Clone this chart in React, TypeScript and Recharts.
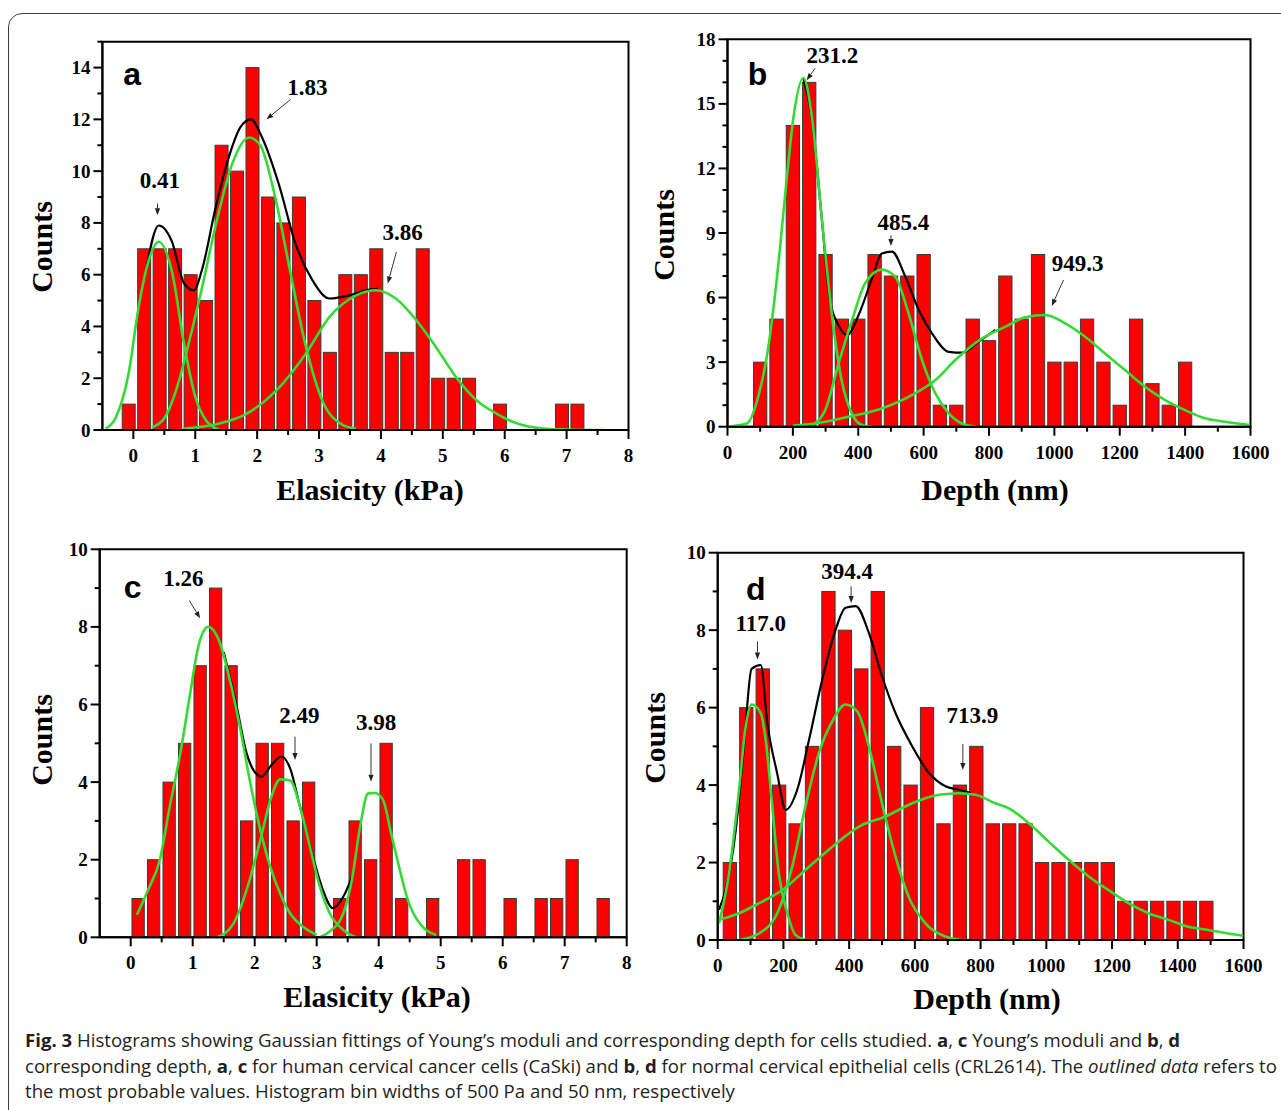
import React from "react";
import {
  ComposedChart,
  Bar,
  Line,
  XAxis,
  YAxis,
  ReferenceArea,
  ReferenceDot,
  ReferenceLine,
} from "recharts";

const W = 1281;
const H = 1110;

// ---------- a: Young's moduli, CaSki ----------
const aBinStart = -0.075;
const aBinWidth = 0.25;
const aCounts = [1, 7, 7, 7, 6, 5, 11, 10, 14, 9, 8, 9, 5, 3, 6, 6, 7, 3, 3, 7, 2, 2, 2, 0, 1, 0, 0, 0, 1, 1];
const aFit1 = [[-0.45, 0.05], [-0.29, 0.45], [-0.075, 2.2], [0.086, 4.76], [0.25, 6.56], [0.41, 7.27], [0.63, 6.05], [0.82, 3.3], [1.0, 1.29], [1.17, 0.39], [1.38, 0.02]];
const aFit2 = [[0.3, 0.1], [0.5, 0.45], [0.7, 1.6], [0.9, 3.4], [1.1, 5.4], [1.33, 7.9], [1.6, 10.3], [1.87, 11.3], [2.05, 11.0], [2.3, 8.9], [2.52, 6.3], [2.79, 3.2], [3.06, 1.1], [3.38, 0.2], [3.6, 0.05]];
const aFit3 = [[0.8, 0.05], [1.3, 0.2], [1.81, 0.6], [2.3, 1.5], [2.79, 2.96], [3.17, 4.37], [3.6, 5.2], [3.92, 5.4], [4.24, 5.08], [4.57, 4.25], [4.89, 3.2], [5.21, 2.06], [5.54, 1.16], [5.86, 0.64], [6.19, 0.26], [6.62, 0.06], [7.0, 0.02], [7.6, 0]];
const aSum = [[0.2, 6.1], [0.41, 7.9], [0.62, 7.3], [0.82, 5.66], [0.98, 5.4], [1.11, 6.2], [1.33, 8.6], [1.55, 10.6], [1.73, 11.7], [1.9, 12.0], [2.08, 11.3], [2.35, 9.5], [2.62, 7.2], [2.89, 5.8], [3.17, 5.08], [3.49, 5.2], [3.76, 5.4], [3.95, 5.45]];
const aXTicks = [0, 0.5, 1, 1.5, 2, 2.5, 3, 3.5, 4, 4.5, 5, 5.5, 6, 6.5, 7, 7.5, 8];
const aXLabels = [0, 1, 2, 3, 4, 5, 6, 7, 8];
const aYTicks = [0, 1, 2, 3, 4, 5, 6, 7, 8, 9, 10, 11, 12, 13, 14, 15];
const aYLabels = [0, 2, 4, 6, 8, 10, 12, 14];
const aNotes = [
  { text: "0.41", x: 0.43, y: 9.65, from: [0.39, 8.75], to: [0.39, 8.3] },
  { text: "1.83", x: 2.81, y: 13.25, from: [2.54, 12.77], to: [2.15, 12.0] },
  { text: "3.86", x: 4.35, y: 7.66, from: [4.25, 6.88], to: [4.11, 5.66] },
];

// ---------- b: depth, CaSki ----------
const bBinStart = 100;
const bBinWidth = 50;
const bCounts = [3, 5, 14, 16, 8, 5, 5, 8, 7, 7, 8, 1, 1, 5, 4, 7, 5, 8, 3, 3, 5, 3, 1, 5, 2, 1, 3];
const bFit1 = [[0, 0], [59, 0.15], [94, 1.4], [125, 3.7], [156, 7.6], [181, 11.5], [202, 14.4], [232, 16.2], [258, 14.4], [288, 9.75], [319, 5.26], [349, 2.17], [380, 0.62], [411, 0.08], [440, 0]];
const bFit2 = [[258, 0.08], [299, 0.77], [340, 2.94], [381, 4.95], [421, 6.66], [472, 7.3], [513, 6.97], [554, 5.26], [595, 3.1], [636, 1.55], [677, 0.62], [717, 0.15], [760, 0]];
const bFit3 = [[200, 0.05], [268, 0.15], [370, 0.46], [472, 0.85], [574, 1.55], [636, 2.17], [697, 3.1], [779, 4.1], [849, 4.64], [910, 5.08], [972, 5.19], [1033, 4.8], [1094, 4.18], [1155, 3.4], [1216, 2.63], [1277, 1.86], [1339, 1.24], [1400, 0.77], [1461, 0.39], [1522, 0.23], [1598, 0.08]];
const bSum = [[232, 16.2], [258, 14.3], [288, 9.75], [313, 5.9], [340, 4.7], [366, 4.26], [403, 5.26], [444, 6.97], [472, 8.05], [503, 8.13], [544, 6.97], [585, 5.42], [626, 4.33], [677, 3.48], [717, 3.44], [768, 3.95], [820, 4.5]];
const bXTicks = [0, 100, 200, 300, 400, 500, 600, 700, 800, 900, 1000, 1100, 1200, 1300, 1400, 1500, 1600];
const bXLabels = [0, 200, 400, 600, 800, 1000, 1200, 1400, 1600];
const bYTicks = [0, 1, 2, 3, 4, 5, 6, 7, 8, 9, 10, 11, 12, 13, 14, 15, 16, 17, 18];
const bYLabels = [0, 3, 6, 9, 12, 15, 18];
const bNotes = [
  { text: "231.2", x: 321, y: 17.27, from: [268, 16.65], to: [242, 16.1] },
  { text: "485.4", x: 538, y: 9.53, from: [500, 8.9], to: [500, 8.4] },
  { text: "949.3", x: 1071, y: 7.59, from: [1028, 6.82], to: [992, 5.61] },
];

// ---------- c: Young's moduli, CRL2614 ----------
const cBinStart = 0.12;
const cBinWidth = 0.25;
const cCounts = [1, 2, 4, 5, 7, 9, 7, 3, 5, 5, 3, 4, 0, 1, 3, 2, 5, 1, 0, 1, 0, 2, 2, 0, 1, 0, 1, 1, 2, 0, 1];
const cFit1 = [[0.1, 0.58], [0.28, 1.22], [0.47, 2.0], [0.63, 3.37], [0.8, 4.74], [0.96, 6.29], [1.09, 7.49], [1.25, 8.0], [1.44, 7.58], [1.6, 6.63], [1.76, 5.43], [1.92, 4.05], [2.09, 2.77], [2.25, 1.82], [2.41, 1.13], [2.57, 0.62], [2.78, 0.27], [3.0, 0.06]];
const cFit2 = [[1.39, 0], [1.66, 0.36], [1.87, 1.22], [2.09, 2.5], [2.27, 3.63], [2.41, 4.07], [2.57, 4.04], [2.73, 3.37], [2.89, 2.34], [3.05, 1.31], [3.21, 0.62], [3.43, 0.19], [3.64, 0]];
const cFit3 = [[3.05, 0], [3.21, 0.15], [3.43, 0.62], [3.57, 1.5], [3.7, 2.85], [3.83, 3.71], [3.94, 3.72], [4.07, 3.54], [4.2, 2.68], [4.34, 1.74], [4.47, 0.96], [4.66, 0.36], [4.93, 0.06]];
const cSum = [[1.5, 7.35], [1.71, 5.95], [1.87, 4.74], [1.98, 4.31], [2.11, 4.14], [2.27, 4.44], [2.43, 4.66], [2.57, 4.36], [2.73, 3.37], [2.94, 2.08], [3.1, 1.22], [3.26, 0.75], [3.43, 1.05], [3.59, 1.65]];
const cYTicks = [0, 1, 2, 3, 4, 5, 6, 7, 8, 9, 10];
const cYLabels = [0, 2, 4, 6, 8, 10];
const cNotes = [
  { text: "1.26", x: 0.85, y: 9.25, from: [0.945, 8.68], to: [1.12, 8.22] },
  { text: "2.49", x: 2.72, y: 5.73, from: [2.65, 5.17], to: [2.65, 4.57] },
  { text: "3.98", x: 3.96, y: 5.56, from: [3.876, 5.0], to: [3.876, 4.01] },
];

// ---------- d: depth, CRL2614 ----------
const dBinStart = 37;
const dBinWidth = 50;
const dCounts = [2, 6, 7, 4, 3, 5, 9, 8, 7, 9, 5, 4, 6, 3, 4, 5, 3, 3, 3, 2, 2, 2, 2, 2, 1, 1, 1, 1, 1, 1];
const dFit1 = [[4, 0.43], [34.5, 1.72], [65, 3.88], [85, 5.5], [103, 6.08], [131, 5.86], [146, 5.17], [166, 3.45], [186, 1.72], [212, 0.69], [237, 0.13], [268, 0]];
const dFit2 = [[65, 0], [126, 0.17], [186, 0.78], [227, 1.9], [267, 3.45], [308, 4.83], [349, 5.65], [389, 6.08], [425, 5.9], [460, 5.0], [500, 3.53], [541, 2.16], [581, 1.12], [632, 0.43], [693, 0.09], [743, 0]];
const dFit3 = [[4, 0.52], [65, 0.69], [126, 0.95], [197, 1.29], [267, 1.81], [349, 2.41], [430, 2.93], [511, 3.19], [592, 3.53], [673, 3.75], [734, 3.79], [784, 3.75], [845, 3.53], [886, 3.4], [946, 3.02], [1007, 2.54], [1068, 2.07], [1129, 1.64], [1189, 1.29], [1250, 0.95], [1311, 0.69], [1372, 0.52], [1432, 0.34], [1493, 0.26], [1584, 0.13], [1600, 0.11]];
const dSum = [[4, 0.78], [24, 1.3], [55, 2.84], [80, 5.0], [103, 7.0], [131, 7.1], [151, 5.6], [181, 4.3], [207, 3.36], [242, 3.88], [278, 5.17], [318, 6.72], [359, 8.02], [389, 8.58], [420, 8.62], [460, 7.93], [500, 6.81], [541, 5.86], [592, 5.0], [643, 4.31], [693, 3.97], [734, 3.88], [770, 3.8]];
const dNotes = [
  { text: "117.0", x: 131, y: 8.18, from: [121, 7.71], to: [121, 7.24] },
  { text: "394.4", x: 394, y: 9.52, from: [406, 9.13], to: [406, 8.7] },
  { text: "713.9", x: 775, y: 5.81, from: [746, 5.06], to: [746, 4.39] },
];

const GREEN = "#36d936";
const serif = '"Liberation Serif", "Times New Roman", serif';
const sans = '"Liberation Sans", Arial, sans-serif';

const toBins = (start: number, width: number, counts: number[]) =>
  counts.map((count, i) => ({ x: +(start + i * width).toFixed(3), count }));
const pts = (arr: number[][]) => arr.map(([x, y]) => ({ x, y }));

type Note = { text: string; x: number; y: number; from: number[]; to: number[] };

interface PanelProps {
  plot: { x0: number; x1: number; y0: number; y1: number };
  xDomain: [number, number];
  yDomain: [number, number];
  xTicks: number[];
  xLabels: number[];
  yTicks: number[];
  yLabels: number[];
  bins: { x: number; count: number }[];
  barSize: number;
  fits: number[][][];
  sum: number[][];
  notes: Note[];
  letter: { text: string; x: number; y: number };
  xTitle: { text: string; x: number; y: number };
  yTitle: { x: number; y: number };
}

function Arrow({ x1, y1, x2, y2 }: any) {
  const dx = x2 - x1;
  const dy = y2 - y1;
  const len = Math.hypot(dx, dy) || 1;
  const ux = dx / len;
  const uy = dy / len;
  const hl = 7;
  const hw = 2.6;
  const bx = x2 - ux * hl;
  const by = y2 - uy * hl;
  return (
    <g>
      <line x1={x1} y1={y1} x2={bx} y2={by} stroke="#333" strokeWidth={1} />
      <polygon
        points={`${x2},${y2} ${bx - uy * hw},${by + ux * hw} ${bx + uy * hw},${by - ux * hw}`}
        fill="#222"
      />
    </g>
  );
}

function Panel(p: PanelProps) {
  const yAxisW = 60;
  const xAxisH = 40;
  const margin = {
    top: p.plot.y0,
    left: p.plot.x0 - yAxisW,
    right: W - p.plot.x1,
    bottom: H - p.plot.y1 - xAxisH,
  };

  const xTick = (props: any) => {
    const { x, y, payload } = props;
    const major = p.xLabels.includes(payload.value);
    return (
      <g>
        <line x1={x} x2={x} y1={y} y2={y + (major ? 9 : 5)} stroke="#000" strokeWidth={2} />
        {major && (
          <text x={x} y={y + 32} textAnchor="middle" fontFamily={serif} fontWeight="bold" fontSize={19} fill="#000">
            {payload.value}
          </text>
        )}
      </g>
    );
  };

  const yTick = (props: any) => {
    const { x, y, payload } = props;
    const major = p.yLabels.includes(payload.value);
    return (
      <g>
        <line x1={x} x2={x - (major ? 9 : 5)} y1={y} y2={y} stroke="#000" strokeWidth={2} />
        {major && (
          <text x={x - 12} y={y + 6.5} textAnchor="end" fontFamily={serif} fontWeight="bold" fontSize={19} fill="#000">
            {payload.value}
          </text>
        )}
      </g>
    );
  };

  // fixed-width bin rectangle centred on the bin value
  const binShape = (bp: any) => {
    if (!bp.height || bp.height <= 0) return <g />;
    const cx = bp.x + bp.width / 2;
    return (
      <rect
        x={cx - p.barSize / 2}
        y={bp.y}
        width={p.barSize}
        height={bp.height}
        fill="#ff0000"
        stroke="#3a3a3a"
        strokeWidth={1}
      />
    );
  };

  return (
    <div style={{ position: "absolute", left: 0, top: 0, width: W, height: H }}>
      <ComposedChart width={W} height={H} data={p.bins} margin={margin}>
        <XAxis
          dataKey="x"
          type="number"
          domain={p.xDomain}
          ticks={p.xTicks}
          interval={0}
          allowDataOverflow
          height={xAxisH}
          tickSize={0}
          tickMargin={0}
          tickLine={false}
          axisLine={{ stroke: "#000", strokeWidth: 2 }}
          tick={xTick}
        />
        <YAxis
          type="number"
          domain={p.yDomain}
          ticks={p.yTicks}
          interval={0}
          allowDataOverflow
          width={yAxisW}
          tickSize={0}
          tickMargin={0}
          tickLine={false}
          axisLine={{ stroke: "#000", strokeWidth: 2 }}
          tick={yTick}
        />
        <Bar dataKey="count" shape={binShape} isAnimationActive={false} />
        <Line data={pts(p.sum)} dataKey="y" type="monotone" dot={false} stroke="#000" strokeWidth={2.2} isAnimationActive={false} />
        {p.fits.map((f, i) => (
          <Line
            key={i}
            data={pts(f)}
            dataKey="y"
            type="monotone"
            dot={false}
            stroke={GREEN}
            strokeWidth={2.6}
            isAnimationActive={false}
          />
        ))}
        <ReferenceArea
          x1={p.xDomain[0]}
          x2={p.xDomain[1]}
          y1={p.yDomain[0]}
          y2={p.yDomain[1]}
          fill="none"
          fillOpacity={0}
          stroke="#000"
          strokeWidth={2}
          ifOverflow="visible"
        />
        {p.notes.map((n) => (
          <ReferenceLine
            key={n.text + "-arrow"}
            segment={[{ x: n.from[0], y: n.from[1] }, { x: n.to[0], y: n.to[1] }]}
            ifOverflow="visible"
            shape={(sp: any) => <Arrow {...sp} />}
          />
        ))}
        {p.notes.map((n) => (
          <ReferenceDot
            key={n.text}
            x={n.x}
            y={n.y}
            r={0}
            ifOverflow="visible"
            shape={(sp: any) => (
              <text x={sp.cx} y={sp.cy + 8} textAnchor="middle" fontFamily={serif} fontWeight="bold" fontSize={23} fill="#000">
                {n.text}
              </text>
            )}
          />
        ))}
        <ReferenceDot
          x={p.letter.x}
          y={p.letter.y}
          r={0}
          ifOverflow="visible"
          shape={(sp: any) => (
            <text x={sp.cx} y={sp.cy} textAnchor="middle" fontFamily={sans} fontWeight="bold" fontSize={32} fill="#000">
              {p.letter.text}
            </text>
          )}
        />
        <text
          x={p.xTitle.x}
          y={p.xTitle.y + 10}
          textAnchor="middle"
          fontFamily={serif}
          fontWeight="bold"
          fontSize={30}
          fill="#000"
        >
          {p.xTitle.text}
        </text>
        <text
          x={p.yTitle.x + 10}
          y={p.yTitle.y}
          textAnchor="middle"
          transform={`rotate(-90 ${p.yTitle.x + 10} ${p.yTitle.y})`}
          fontFamily={serif}
          fontWeight="bold"
          fontSize={30}
          fill="#000"
        >
          Counts
        </text>
      </ComposedChart>
    </div>
  );
}

const b = (t: string) => <b style={{ fontWeight: 700 }}>{t}</b>;

export default function App() {
  return (
    <div style={{ position: "absolute", left: 0, top: 0, width: W, height: H, overflow: "hidden", background: "#fff" }}>
      <div
        style={{
          position: "absolute",
          left: 8,
          top: 13,
          width: 1300,
          height: 1200,
          border: "1.5px solid #3c3c3c",
          borderTopLeftRadius: 14,
          boxSizing: "border-box",
        }}
      />
      <Panel
        plot={{ x0: 102.4, x1: 628.5, y0: 41.7, y1: 430 }}
        xDomain={[-0.5, 8]}
        yDomain={[0, 15]}
        xTicks={aXTicks}
        xLabels={aXLabels}
        yTicks={aYTicks}
        yLabels={aYLabels}
        bins={toBins(aBinStart, aBinWidth, aCounts)}
        barSize={13}
        fits={[aFit1, aFit2, aFit3]}
        sum={aSum}
        notes={aNotes}
        letter={{ text: "a", x: -0.02, y: 13.32 }}
        xTitle={{ text: "Elasicity (kPa)", x: 370, y: 490 }}
        yTitle={{ x: 42, y: 247 }}
      />
      <Panel
        plot={{ x0: 727.5, x1: 1250.5, y0: 39.3, y1: 426.7 }}
        xDomain={[0, 1600]}
        yDomain={[0, 18]}
        xTicks={bXTicks}
        xLabels={bXLabels}
        yTicks={bYTicks}
        yLabels={bYLabels}
        bins={toBins(bBinStart, bBinWidth, bCounts)}
        barSize={13.3}
        fits={[bFit1, bFit2, bFit3]}
        sum={bSum}
        notes={bNotes}
        letter={{ text: "b", x: 92, y: 15.88 }}
        xTitle={{ text: "Depth (nm)", x: 995, y: 490 }}
        yTitle={{ x: 664, y: 235 }}
      />
      <Panel
        plot={{ x0: 99.7, x1: 626.7, y0: 549.3, y1: 937.3 }}
        xDomain={[-0.5, 8]}
        yDomain={[0, 10]}
        xTicks={aXTicks}
        xLabels={aXLabels}
        yTicks={cYTicks}
        yLabels={cYLabels}
        bins={toBins(cBinStart, cBinWidth, cCounts)}
        barSize={12.3}
        fits={[cFit1, cFit2, cFit3]}
        sum={cSum}
        notes={cNotes}
        letter={{ text: "c", x: 0.03, y: 8.74 }}
        xTitle={{ text: "Elasicity (kPa)", x: 377, y: 997 }}
        yTitle={{ x: 42, y: 740 }}
      />
      <Panel
        plot={{ x0: 717.7, x1: 1243.5, y0: 552.7, y1: 940 }}
        xDomain={[0, 1600]}
        yDomain={[0, 10]}
        xTicks={bXTicks}
        xLabels={bXLabels}
        yTicks={cYTicks}
        yLabels={cYLabels}
        bins={toBins(dBinStart, dBinWidth, dCounts)}
        barSize={13.3}
        fits={[dFit1, dFit2, dFit3]}
        sum={dSum}
        notes={dNotes}
        letter={{ text: "d", x: 116, y: 8.79 }}
        xTitle={{ text: "Depth (nm)", x: 987, y: 999 }}
        yTitle={{ x: 655, y: 738 }}
      />
      <div
        style={{
          position: "absolute",
          left: 25,
          top: 1027,
          width: 1260,
          fontFamily: '"Open Sans", "Noto Sans", sans-serif',
          fontSize: 18.6,
          lineHeight: "25.5px",
          color: "#231f20",
          whiteSpace: "nowrap",
        }}
      >
        <div>
          {b("Fig. 3")} Histograms showing Gaussian fittings of Young’s moduli and corresponding depth for cells studied. {b("a")},{" "}
          {b("c")} Young’s moduli and {b("b")}, {b("d")}
        </div>
        <div>
          corresponding depth, {b("a")}, {b("c")} for human cervical cancer cells (CaSki) and {b("b")}, {b("d")} for normal cervical
          epithelial cells (CRL2614). The <i>outlined data</i> refers to
        </div>
        <div>the most probable values. Histogram bin widths of 500 Pa and 50 nm, respectively</div>
      </div>
    </div>
  );
}
